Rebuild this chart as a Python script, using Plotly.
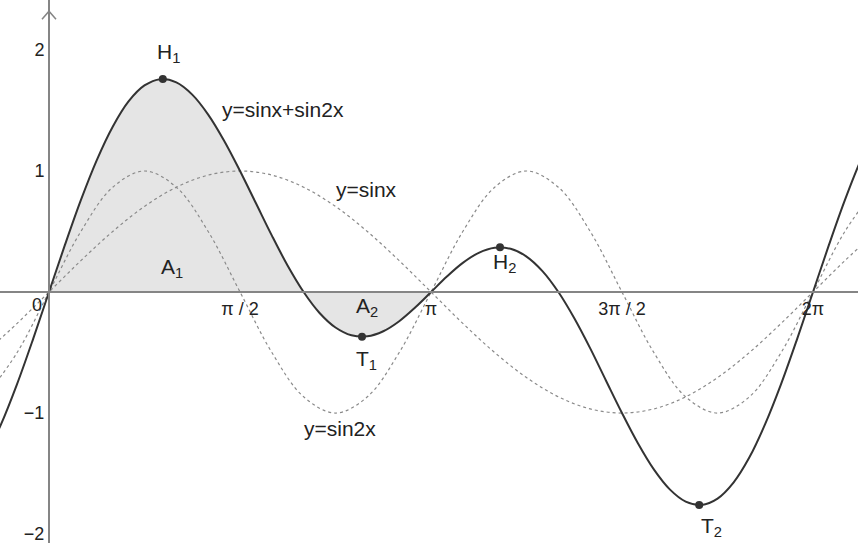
import plotly.graph_objects as go

# Abtastwerte fuer sin x und sin 2x (x in Bogenmaß, Schritt pi/12)
x_vals = [-0.524, -0.262, 0.0, 0.262, 0.524, 0.785, 1.047, 1.309, 1.571, 1.833,
          2.094, 2.356, 2.618, 2.880, 3.142, 3.403, 3.665, 3.927, 4.189, 4.451,
          4.712, 4.974, 5.236, 5.498, 5.760, 6.021, 6.283, 6.545, 6.807]
sin_x = [-0.5, -0.259, 0.0, 0.259, 0.5, 0.707, 0.866, 0.966, 1.0, 0.966,
         0.866, 0.707, 0.5, 0.259, 0.0, -0.259, -0.5, -0.707, -0.866, -0.966,
         -1.0, -0.966, -0.866, -0.707, -0.5, -0.259, 0.0, 0.259, 0.5]
sin_2x = [-0.866, -0.5, 0.0, 0.5, 0.866, 1.0, 0.866, 0.5, 0.0, -0.5,
          -0.866, -1.0, -0.866, -0.5, 0.0, 0.5, 0.866, 1.0, 0.866, 0.5,
          0.0, -0.5, -0.866, -1.0, -0.866, -0.5, 0.0, 0.5, 0.866]

# sin x + sin 2x, feinere Abtastung (Schritt pi/24)
x_fine = [-0.524, -0.393, -0.262, -0.131, 0.0, 0.131, 0.262, 0.393, 0.524, 0.654,
          0.785, 0.916, 1.047, 1.178, 1.309, 1.440, 1.571, 1.702, 1.833, 1.963,
          2.094, 2.225, 2.356, 2.487, 2.618, 2.749, 2.880, 3.011, 3.142, 3.272,
          3.403, 3.534, 3.665, 3.796, 3.927, 4.058, 4.189, 4.320, 4.451, 4.581,
          4.712, 4.843, 4.974, 5.105, 5.236, 5.367, 5.498, 5.629, 5.760, 5.890,
          6.021, 6.152, 6.283, 6.414, 6.545, 6.676, 6.807]
sum_y = [-1.366, -1.090, -0.759, -0.389, 0.0, 0.389, 0.759, 1.090, 1.366, 1.575,
         1.707, 1.759, 1.732, 1.631, 1.466, 1.250, 1.0, 0.733, 0.466, 0.217,
         0.0, -0.173, -0.293, -0.357, -0.366, -0.324, -0.241, -0.128, 0.0, 0.128,
         0.241, 0.324, 0.366, 0.357, 0.293, 0.173, 0.0, -0.217, -0.466, -0.733,
         -1.0, -1.250, -1.466, -1.631, -1.732, -1.759, -1.707, -1.575, -1.366, -1.090,
         -0.759, -0.389, 0.0, 0.389, 0.759, 1.090, 1.366]

# Fläche A1 + A2 zwischen 0 und pi
area_x = x_fine[4:29]
area_y = sum_y[4:29]

# Extrempunkte
pt_names = ["H1", "T1", "H2", "T2"]
pt_x = [0.936, 2.574, 3.709, 5.347]
pt_y = [1.760, -0.369, 0.369, -1.760]

# Beschriftungen
lbl_text = ["H<sub>1</sub>", "T<sub>1</sub>", "H<sub>2</sub>", "T<sub>2</sub>",
            "A<sub>1</sub>", "A<sub>2</sub>", "y=sinx+sin2x", "y=sinx", "y=sin2x"]
lbl_x = [0.979, 2.607, 3.742, 5.452, 1.010, 2.615, 1.924, 2.615, 2.393]
lbl_y = [1.975, -0.562, 0.240, -1.942, 0.198, -0.124, 1.512, 0.851, -1.124]

x_ticks = [1.5708, 3.1416, 4.7124, 6.2832]
x_ticktext = ["π / 2", "π", "3π / 2", "2π"]
y_ticks = [-2, -1, 1, 2]
y_ticktext = ["−2", "−1", "1", "2"]

X_RANGE = [-0.403, 6.653]
Y_RANGE = [-2.074, 2.413]

FONT = "Liberation Sans, Arial, sans-serif"
AXIS_COLOR = "#858585"
DOT_COLOR = "#8a8a8a"

fig = go.Figure()

fig.add_trace(go.Scatter(
    x=area_x, y=area_y, mode="lines", fill="tozeroy",
    fillcolor="#e5e5e5", line=dict(width=0, shape="spline", color="#e5e5e5"),
    hoverinfo="skip", showlegend=False
))

fig.add_trace(go.Scatter(
    x=x_vals, y=sin_x, mode="lines",
    line=dict(width=1.2, dash="dot", color=DOT_COLOR, shape="spline"),
    showlegend=False
))
fig.add_trace(go.Scatter(
    x=x_vals, y=sin_2x, mode="lines",
    line=dict(width=1.2, dash="dot", color=DOT_COLOR, shape="spline"),
    showlegend=False
))
fig.add_trace(go.Scatter(
    x=x_fine, y=sum_y, mode="lines",
    line=dict(width=2, color="#333333", shape="spline"),
    showlegend=False
))
fig.add_trace(go.Scatter(
    x=pt_x, y=pt_y, mode="markers", text=pt_names,
    marker=dict(size=8, color="#333333"),
    showlegend=False
))

for t, lx, ly in zip(lbl_text, lbl_x, lbl_y):
    fig.add_annotation(x=lx, y=ly, text=t, showarrow=False,
                       xanchor="center", yanchor="middle",
                       font=dict(family=FONT, size=21, color="#222222"))

# Ursprung
fig.add_annotation(x=-0.099, y=-0.107, text="0", showarrow=False,
                   font=dict(family=FONT, size=18, color="#222222"))

# Pfeil an der y-Achse
fig.add_shape(type="path", xref="x", yref="y", xsizemode="pixel", ysizemode="pixel",
              xanchor=0, yanchor=2.32, path="M-7,-8 L0,0 L7,-8",
              line=dict(color=AXIS_COLOR, width=1.5))

fig.update_layout(
    width=858, height=543,
    margin=dict(l=0, r=0, t=0, b=0),
    plot_bgcolor="white", paper_bgcolor="white",
    showlegend=False,
    xaxis=dict(
        range=X_RANGE, anchor="free", position=(0 - Y_RANGE[0]) / (Y_RANGE[1] - Y_RANGE[0]),
        showline=True, linecolor=AXIS_COLOR, linewidth=2,
        showgrid=False, zeroline=False,
        tickmode="array", tickvals=x_ticks, ticktext=x_ticktext, ticks="",
        tickfont=dict(family=FONT, size=18, color="#222222"),
        ticklabeloverflow="allow",
    ),
    yaxis=dict(
        range=Y_RANGE, anchor="free", position=(0 - X_RANGE[0]) / (X_RANGE[1] - X_RANGE[0]),
        showline=True, linecolor=AXIS_COLOR, linewidth=2,
        showgrid=False, zeroline=False,
        tickmode="array", tickvals=y_ticks, ticktext=y_ticktext, ticks="",
        tickfont=dict(family=FONT, size=18, color="#222222"),
        ticklabeloverflow="allow",
    ),
)

fig.write_html("out.html", config={"displayModeBar": False},
               post_script="document.body.style.margin='0';")
